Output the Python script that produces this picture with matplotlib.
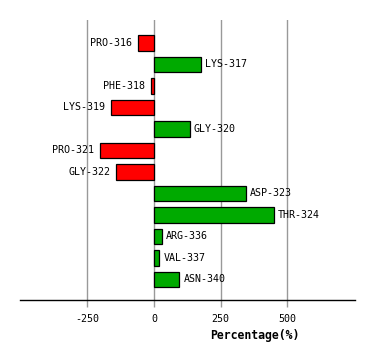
import matplotlib
matplotlib.use("Agg")
import matplotlib.pyplot as plt

residues = ["PRO-316", "LYS-317", "PHE-318", "LYS-319", "GLY-320", "PRO-321",
            "GLY-322", "ASP-323", "THR-324", "ARG-336", "VAL-337", "ASN-340"]
percent = [-59, 175, -11, -161, 134, -201, -142, 344, 449, 29, 20, 96]
xticks = [-250, 0, 250, 500]

plt.rcParams["font.family"] = "DejaVu Sans Mono"

fig = plt.figure(figsize=(3.74, 3.6), dpi=100)
ax = fig.add_axes([20 / 374, 60 / 360, 335 / 374, 280 / 360])

colors = ["#ff0000" if v < 0 else "#00aa00" for v in percent]
rows = list(range(len(residues)))
ax.barh(rows, percent, height=0.72, color=colors, edgecolor="black",
        linewidth=0.9, zorder=3)

# labels sit just outside the end of each bar
for r, v, name in zip(rows, percent, residues):
    if v < 0:
        ax.text(v - 22, r, name, ha="right", va="center", fontsize=7.2, zorder=4)
    else:
        ax.text(v + 15, r, name, ha="left", va="center", fontsize=7.2, zorder=4)

ax.set_xlim(-502, 754)
ax.set_ylim(len(residues) - 0.04, -1.06)
ax.set_xticks(xticks)
ax.set_xticklabels([str(t) for t in xticks], fontsize=7.2)
ax.set_yticks([])
ax.grid(axis="x", color="#999999", linewidth=1.0, zorder=0)
for s in ["top", "left", "right"]:
    ax.spines[s].set_visible(False)
ax.spines["bottom"].set_linewidth(1.0)
ax.tick_params(axis="x", length=5, width=1.0, color="#999999", pad=5)

ax.set_xlabel("Percentage(%)", fontsize=8.3, fontweight="bold")
ax.xaxis.set_label_coords(0.70, -0.105)

fig.savefig("out.png", dpi=100)
